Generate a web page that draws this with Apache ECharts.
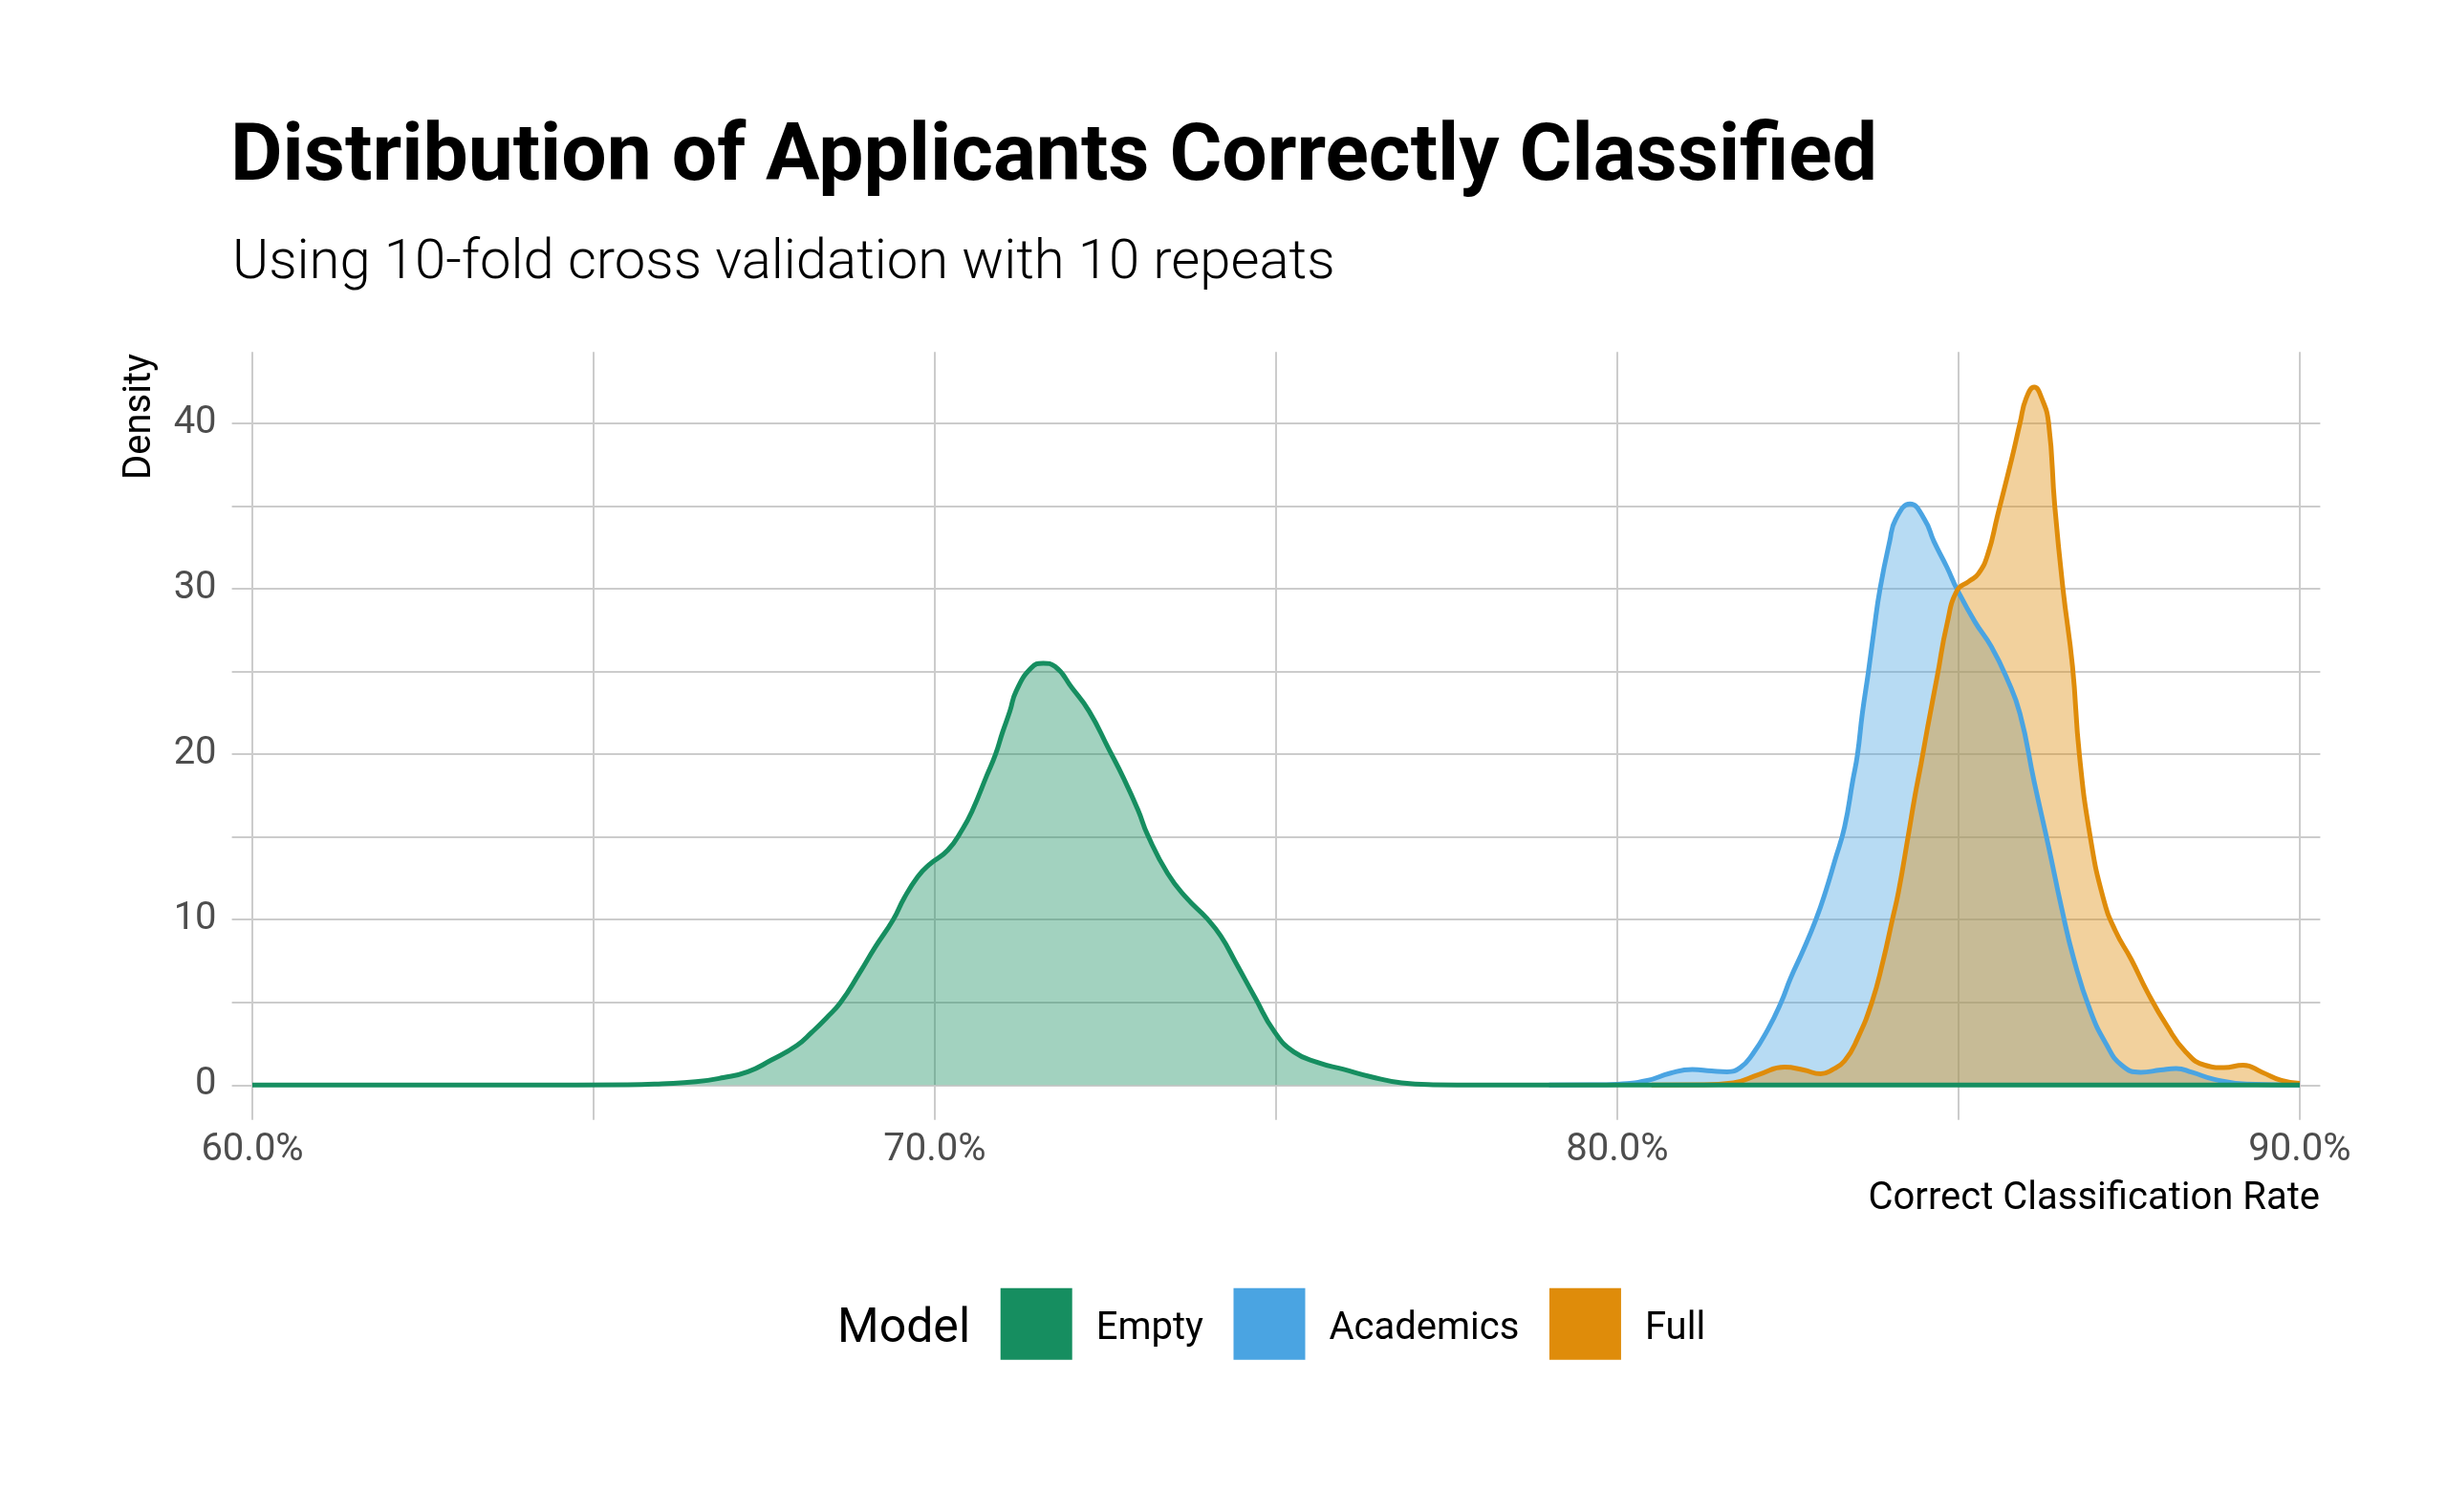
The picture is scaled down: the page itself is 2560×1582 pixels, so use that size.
<!DOCTYPE html>
<html>
<head>
<meta charset="utf-8">
<script src="https://cdn.jsdelivr.net/npm/echarts@6.0.0/dist/echarts.min.js"></script>
<style>
html,body{margin:0;padding:0;background:#ffffff;}
#chart{width:2560px;height:1582px;}
</style>
</head>
<body>
<div id="chart"></div>
<script>
// ---- Data ----
const models = ['Empty', 'Academics', 'Full'];
const modelColors = ['#168E60', '#4AA4E2', '#DF8C0A'];

const xTickLabels = [60, 70, 80, 90];
const xGridValues = [60, 65, 70, 75, 80, 85, 90];
const yTickLabels = [0, 10, 20, 30, 40];
const yGridValues = [0, 5, 10, 15, 20, 25, 30, 35, 40];

// [correct classification rate (%), density]
const emptyData = [
  [60.0, 0], [64.0, 0], [65.5, 0.02], [66.0, 0.08], [66.5, 0.2], [66.9, 0.45],
  [67.26, 0.8], [67.6, 1.5], [67.98, 2.4], [68.2, 3.2], [68.41, 4.05], [68.62, 5.0],
  [68.90, 6.8], [69.12, 8.3], [69.39, 10.0], [69.55, 11.3], [69.75, 12.6], [69.91, 13.3],
  [70.19, 14.2], [70.41, 15.5], [70.55, 16.6], [70.76, 18.7], [70.89, 20.0], [70.99, 21.3],
  [71.10, 22.6], [71.19, 23.8], [71.41, 25.2], [71.59, 25.5], [71.76, 25.3], [72.01, 24.0],
  [72.26, 22.6], [72.55, 20.3], [72.76, 18.6], [72.98, 16.6], [73.12, 15.1], [73.41, 12.8],
  [73.69, 11.3], [73.98, 10.1], [74.19, 9.0], [74.41, 7.4], [74.69, 5.3], [74.98, 3.2],
  [75.26, 2.0], [75.62, 1.35], [75.98, 0.96], [76.41, 0.48], [76.84, 0.13], [77.3, 0.02],
  [78.0, 0], [90.0, 0]
];

const academicsData = [
  [79.0, 0], [79.6, 0.01], [80.0, 0.05], [80.44, 0.28], [80.77, 0.71], [81.10, 0.94],
  [81.38, 0.85], [81.61, 0.8], [81.80, 1.05], [81.98, 1.85], [82.21, 3.39], [82.40, 5.0],
  [82.54, 6.47], [82.73, 8.2], [82.91, 10.0], [83.05, 11.67], [83.19, 13.6], [83.33, 15.6],
  [83.45, 18.4], [83.52, 20.0], [83.59, 22.45], [83.68, 25.0], [83.76, 27.46], [83.85, 30.0],
  [83.99, 32.85], [84.08, 34.2], [84.29, 35.12], [84.50, 34.2], [84.64, 32.85], [84.83, 31.3],
  [84.98, 29.95], [85.24, 28.0], [85.48, 26.5], [85.71, 24.57], [85.90, 22.45], [86.11, 18.3],
  [86.32, 14.4], [86.51, 10.7], [86.69, 7.6], [86.93, 4.5], [87.16, 2.5], [87.39, 1.2],
  [87.67, 0.77], [87.96, 0.91], [88.19, 1.0], [88.42, 0.77], [88.75, 0.34], [89.22, 0.06],
  [90.0, 0]
];

const fullData = [
  [80.5, 0], [81.24, 0.01], [81.70, 0.14], [82.08, 0.65], [82.45, 1.08], [82.73, 0.91],
  [82.98, 0.68], [83.14, 0.9], [83.33, 1.46], [83.52, 2.81], [83.73, 5.0], [83.89, 7.43],
  [84.03, 10.0], [84.12, 11.67], [84.26, 15.0], [84.36, 17.45], [84.45, 19.4], [84.55, 21.7],
  [84.69, 24.76], [84.83, 27.85], [84.98, 29.9], [85.15, 30.44], [85.29, 30.9], [85.43, 32.1],
  [85.57, 34.4], [85.78, 37.86], [85.90, 40.0], [85.99, 41.5], [86.11, 42.19], [86.22, 41.5],
  [86.32, 40.0], [86.41, 35.0], [86.53, 30.0], [86.67, 25.3], [86.77, 20.0], [86.93, 15.0],
  [87.12, 11.3], [87.30, 9.3], [87.53, 7.6], [87.77, 5.6], [88.05, 3.6], [88.33, 2.0],
  [88.61, 1.2], [88.89, 1.05], [89.17, 1.2], [89.45, 0.77], [89.73, 0.28], [90.0, 0.1]
];

const seriesData = { Empty: emptyData, Academics: academicsData, Full: fullData };

// ---- Chart ----
const FONT = 'Roboto, "Noto Sans", sans-serif';
const chart = echarts.init(document.getElementById('chart'), null, { renderer: 'canvas' });

// draw order: Academics, Full, then Empty on top
const drawOrder = ['Academics', 'Full', 'Empty'];
const series = drawOrder.map(function (name) {
  const c = modelColors[models.indexOf(name)];
  return {
    name: name,
    type: 'line',
    data: seriesData[name],
    smooth: 0.5,
    symbol: 'none',
    showSymbol: false,
    lineStyle: { color: c, width: 5 },
    itemStyle: { color: c },
    areaStyle: { color: c, opacity: 0.4 },
    emphasis: { disabled: true },
    animation: false
  };
});

const option = {
  backgroundColor: '#ffffff',
  animation: false,
  title: [
    {
      text: 'Distribution of Applicants Correctly Classified',
      left: 241, top: 125, padding: 0,
      textStyle: { fontSize: 84, fontWeight: 'bold', fontFamily: FONT, color: '#000000' }
    },
    {
      text: 'Using 10-fold cross validation with 10 repeats',
      left: 243, top: 247, padding: 0,
      textStyle: { fontSize: 58, fontWeight: 300, fontFamily: FONT, color: '#000000' }
    }
  ],
  grid: { left: 242.6, right: 132.6, top: 368.3, bottom: 410.2 },
  xAxis: {
    type: 'value',
    min: 59.7,
    max: 90.3,
    axisLine: { show: false },
    axisTick: { show: false, customValues: xGridValues },
    axisLabel: {
      customValues: xTickLabels,
      formatter: function (v) { return v.toFixed(1) + '%'; },
      fontSize: 40, color: '#4D4D4D', fontFamily: FONT, margin: 12
    },
    splitLine: { show: true, lineStyle: { color: '#CCCCCC', width: 2 } }
  },
  yAxis: {
    type: 'value',
    min: -2.11,
    max: 44.31,
    axisLine: { show: false },
    axisTick: { show: false, customValues: yGridValues },
    axisLabel: {
      customValues: yTickLabels,
      formatter: function (v) { return String(v); },
      fontSize: 40, color: '#4D4D4D', fontFamily: FONT, margin: 16,
      padding: [8, 0, 0, 0]
    },
    splitLine: { show: true, lineStyle: { color: '#CCCCCC', width: 2 } }
  },
  legend: {
    data: models.map(function (m, i) {
      return { name: m, icon: 'rect', itemStyle: { color: modelColors[i], borderWidth: 0, opacity: 1 } };
    }),
    orient: 'horizontal',
    left: 1046.7,
    top: 1347.7,
    padding: 0,
    itemWidth: 75,
    itemHeight: 75,
    itemGap: 31.5,
    selectedMode: false,
    formatter: function (name) { return '\n' + name; },
    textStyle: { fontSize: 40, lineHeight: 12, color: '#000000', fontFamily: FONT, padding: [0, 0, 0, 20] }
  },
  graphic: [
    {
      type: 'text', x: 147.4, y: 370, rotation: Math.PI / 2,
      style: { text: 'Density', fontSize: 40, fontFamily: FONT, fill: '#000000', align: 'right', verticalAlign: 'middle' }
    },
    {
      type: 'text', x: 2427, y: 1255,
      style: { text: 'Correct Classification Rate', fontSize: 40, fontFamily: FONT, fill: '#000000', align: 'right', verticalAlign: 'middle' }
    },
    {
      type: 'text', x: 876, y: 1391,
      style: { text: 'Model', fontSize: 50, fontFamily: FONT, fill: '#000000', align: 'left', verticalAlign: 'middle' }
    }
  ],
  series: series
};

chart.setOption(option);
</script>
</body>
</html>
